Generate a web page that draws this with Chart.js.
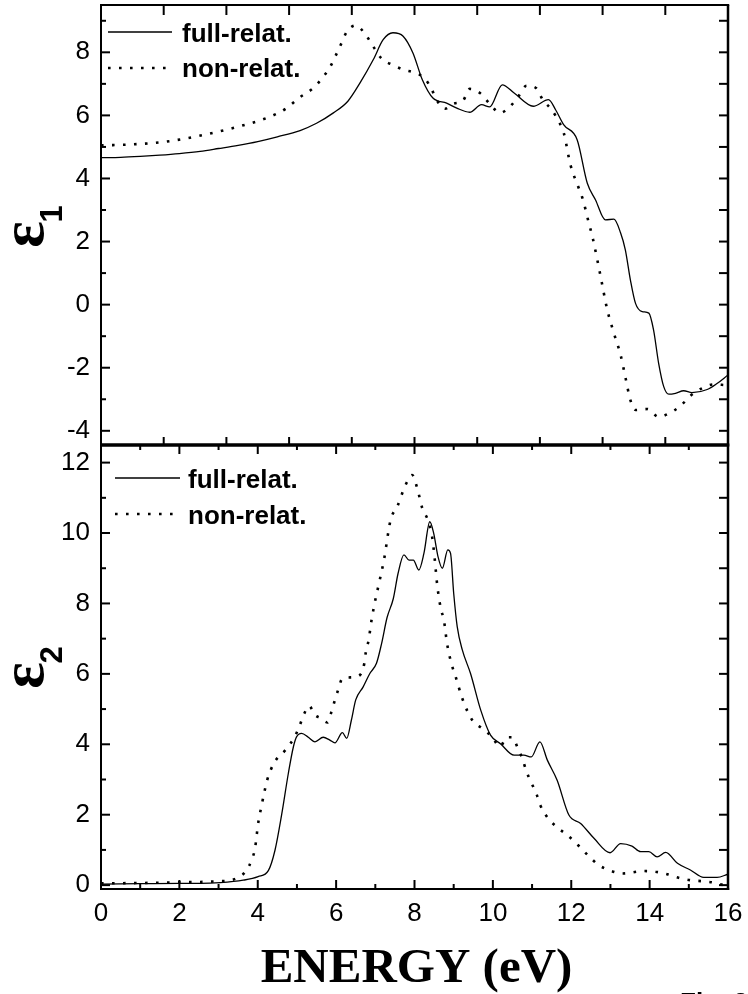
<!DOCTYPE html>
<html>
<head>
<meta charset="utf-8">
<script src="https://cdn.jsdelivr.net/npm/chart.js@4/dist/chart.umd.min.js"></script>
<style>
html,body{margin:0;padding:0;background:#fff;}
#wrap{position:relative;width:748px;height:994px;overflow:hidden;}
canvas{position:absolute;left:0;top:0;}
</style>
</head>
<body>
<div id="wrap">
<canvas id="top" width="748" height="994"></canvas>
<canvas id="bot" width="748" height="994"></canvas>
</div>
<script>
// ---------- data (energy in eV) ----------
const e1FullE = [0,0.5,1,1.5,2,2.53,3,3.5,4,4.5,5.08,5.5,5.93,6.3,6.61,6.95,7.2,7.45,7.71,7.96,8.2,8.47,8.82,9.08,9.41,9.71,9.92,10.24,10.55,11.03,11.42,11.6,11.81,12.15,12.41,12.62,12.87,13.09,13.26,13.38,13.51,13.64,13.81,13.98,14.1,14.23,14.36,14.49,14.66,14.87,15.08,15.47,15.72,16];
const e1FullV = [4.66,4.67,4.70,4.74,4.79,4.86,4.95,5.05,5.17,5.32,5.52,5.75,6.08,6.45,7.03,7.77,8.40,8.62,8.51,7.98,7.13,6.55,6.39,6.23,6.10,6.34,6.27,6.97,6.70,6.29,6.50,6.18,5.70,5.23,3.85,3.32,2.69,2.71,2.27,1.74,0.78,0.04,-0.22,-0.27,-0.80,-1.86,-2.60,-2.84,-2.81,-2.73,-2.79,-2.69,-2.50,-2.23];

const e1NonE = [0,0.8,1.67,2.5,3.37,4.23,4.7,5.08,5.42,5.67,5.87,6.01,6.14,6.27,6.5,6.78,6.97,7.16,7.46,7.72,8.01,8.27,8.44,8.56,8.78,8.99,9.24,9.41,9.67,9.94,10.18,10.43,10.65,10.86,11.1,11.27,11.51,11.68,11.81,11.98,12.19,12.3,12.45,12.55,12.75,12.92,13.09,13.26,13.38,13.51,13.64,13.94,14.23,14.49,14.79,15.04,15.34,15.64,15.94];
const e1NonV = [5.05,5.08,5.17,5.35,5.60,5.92,6.20,6.58,6.87,7.22,7.59,7.95,8.30,8.65,8.85,8.51,8.14,7.80,7.59,7.45,7.35,7.16,6.82,6.50,6.21,6.37,6.47,6.84,6.71,6.34,6.08,6.27,6.60,6.94,6.87,6.50,6.16,5.81,5.44,4.43,3.70,3.32,2.58,2.10,0.89,-0.17,-0.91,-1.60,-2.29,-3.03,-3.34,-3.31,-3.56,-3.45,-3.21,-2.89,-2.65,-2.53,-2.55];

const e2FullE = [0,1,2,2.53,3.04,3.63,4.01,4.27,4.44,4.61,4.78,4.91,4.99,5.12,5.29,5.46,5.67,5.84,5.97,6.16,6.27,6.39,6.5,6.69,6.86,7.03,7.16,7.3,7.46,7.58,7.73,7.86,7.97,8.11,8.24,8.39,8.49,8.6,8.71,8.85,8.92,9.0,9.09,9.22,9.43,9.69,9.94,10.2,10.54,10.79,10.98,11.2,11.39,11.64,11.94,12.24,12.58,12.99,13.26,13.55,13.77,13.98,14.19,14.41,14.71,15.04,15.38,15.72,16];
const e2FullV = [0.03,0.04,0.05,0.05,0.07,0.14,0.24,0.41,0.99,2.0,3.17,3.93,4.21,4.31,4.20,4.07,4.20,4.12,4.04,4.33,4.17,4.69,5.26,5.63,6.01,6.30,6.86,7.60,8.14,8.85,9.38,9.23,9.23,8.95,9.42,10.32,9.99,9.33,9.0,9.52,9.42,8.29,7.34,6.68,6.01,4.97,4.26,4.01,3.69,3.69,3.64,4.07,3.55,2.98,1.99,1.75,1.33,0.92,1.18,1.11,0.95,0.95,0.80,0.93,0.62,0.43,0.22,0.22,0.31];

const e2NonE = [0,1,2,3,3.38,3.72,3.84,3.93,4.01,4.1,4.16,4.24,4.33,4.46,4.71,4.92,5.06,5.16,5.31,5.46,5.59,5.78,5.88,5.97,6.05,6.16,6.39,6.61,6.72,6.76,6.83,6.9,7.0,7.09,7.22,7.39,7.56,7.77,7.94,8.07,8.2,8.34,8.45,8.51,8.58,8.67,8.75,8.83,8.94,9.05,9.22,9.47,9.73,9.98,10.18,10.36,10.49,10.64,10.75,10.86,10.98,11.11,11.21,11.38,11.62,11.9,12.17,12.45,12.7,13.0,13.3,13.85,14.15,14.45,14.74,15.04,15.35,15.64,15.89,16];
const e2NonV = [0.05,0.06,0.08,0.11,0.16,0.43,0.71,1.04,1.75,2.27,2.60,2.98,3.27,3.55,3.84,4.17,4.50,4.80,5.09,4.83,4.75,4.62,4.92,5.26,5.54,5.87,5.90,5.97,6.30,6.63,6.96,7.50,8.10,8.55,9.23,10.37,10.75,11.36,11.65,11.27,10.70,10.37,9.89,9.33,8.52,7.86,7.53,6.87,6.30,5.92,5.30,4.69,4.45,4.21,3.93,4.20,4.20,3.88,3.60,3.22,2.91,2.60,2.27,1.94,1.66,1.42,1.14,0.82,0.57,0.41,0.33,0.40,0.38,0.31,0.21,0.14,0.11,0.07,0.0,-0.02];

const seriesLabels = ['full-relat.', 'non-relat.'];
const e1TickLabels = [-4,-2,0,2,4,6,8];
const e2TickLabels = [0,2,4,6,8,10,12];
const energyTickLabels = [0,2,4,6,8,10,12,14,16];
const e1TopTickMarks = [0,1.6,3.2,4.8,6.4,8,9.6,11.2,12.8,14.4,16];
const xTitle = 'ENERGY (eV)';
const figText = 'Fig. 3';

// ---------- helpers ----------
const pts = (xs, ys) => xs.map((x, i) => ({x: x, y: ys[i]}));
const solidStyle = {borderColor:'#000', borderWidth:1.3, pointRadius:0, fill:false, cubicInterpolationMode:'monotone'};
const dotStyle = {borderColor:'#000', borderWidth:2.6, borderDash:[2.6,8.4], pointRadius:0, fill:false, cubicInterpolationMode:'monotone'};
const tickFont = {family:'"Liberation Sans", Arial, sans-serif', size:26};

function zeroPad(s) { s.paddingTop = 0; s.paddingBottom = 0; s.paddingLeft = 0; s.paddingRight = 0; }

function line(ctx, x1, y1, x2, y2, w) {
  ctx.lineWidth = w; ctx.beginPath(); ctx.moveTo(x1, y1); ctx.lineTo(x2, y2); ctx.stroke();
}

function drawEpsLabel(ctx, cx, cy, sub) {
  ctx.save();
  ctx.fillStyle = '#000';
  ctx.font = 'bold 62px "Liberation Serif", "Times New Roman", serif';
  const we = ctx.measureText('\u03b5').width;
  ctx.font = 'bold 31px "Liberation Sans", Arial, sans-serif';
  const ws = ctx.measureText(sub).width;
  const total = we + ws;
  ctx.translate(cx, cy);
  ctx.rotate(-Math.PI / 2);
  ctx.textBaseline = 'alphabetic';
  ctx.textAlign = 'left';
  ctx.font = 'bold 62px "Liberation Serif", "Times New Roman", serif';
  ctx.fillText('\u03b5', -total / 2, 0);
  ctx.font = 'bold 31px "Liberation Sans", Arial, sans-serif';
  ctx.fillText(sub, -total / 2 + we - 1, 19);
  ctx.restore();
}

function drawLegend(ctx, x0, x1, x1d, xt, yl1, yb1, yl2, yb2) {
  ctx.save();
  ctx.strokeStyle = '#000';
  line(ctx, x0, yl1, x1, yl1, 1.3);
  ctx.setLineDash([2.6, 8.4]);
  line(ctx, x0, yl2, x1d, yl2, 2.6);
  ctx.setLineDash([]);
  ctx.fillStyle = '#000';
  ctx.font = 'bold 26px "Liberation Sans", Arial, sans-serif';
  ctx.textAlign = 'left'; ctx.textBaseline = 'alphabetic';
  ctx.fillText(seriesLabels[0], xt, yb1);
  ctx.fillText(seriesLabels[1], xt, yb2);
  ctx.restore();
}

// ---------- top panel (epsilon 1) ----------
const topPlugin = {
  id: 'topFrame',
  afterDatasetsDraw(chart) {
    const {ctx, chartArea: {left, right, top, bottom}} = chart;
    const xs = chart.scales.x, ys = chart.scales.y;
    ctx.save();
    ctx.strokeStyle = '#000';
    ctx.lineCap = 'butt';
    for (let v = -4; v <= 9; v++) {
      const py = ys.getPixelForValue(v);
      line(ctx, left, py, left + (v % 2 === 0 ? 9 : 5), py, 2);
      line(ctx, right, py, right - 9, py, 2);
    }
    e1TopTickMarks.forEach(e => {
      const px = xs.getPixelForValue(e);
      line(ctx, px, top, px, top + 10, 2);
      line(ctx, px, bottom, px, bottom - 8, 2);
    });
    line(ctx, left - 1, top, right + 1.2, top, 2);
    line(ctx, left, top, left, bottom, 2);
    line(ctx, right, top, right, bottom, 2.5);
    line(ctx, left - 1, bottom, right + 1.2, bottom, 3);
    ctx.restore();
    drawLegend(ctx, 108, 172, 166, 182, 32, 42, 68, 77);
    drawEpsLabel(ctx, 43, (top + bottom) / 2 + 1, '1');
  }
};

new Chart(document.getElementById('top'), {
  type: 'line',
  data: {
    datasets: [
      Object.assign({label: seriesLabels[0], data: pts(e1FullE, e1FullV)}, solidStyle),
      Object.assign({label: seriesLabels[1], data: pts(e1NonE, e1NonV)}, dotStyle)
    ]
  },
  options: {
    responsive: false, animation: false, devicePixelRatio: 1,
    layout: {padding: {left: 0, right: 20, top: 5, bottom: 549}},
    scales: {
      x: {type: 'linear', min: 0, max: 16, display: false},
      y: {
        type: 'linear', min: -4.45, max: 9.5, position: 'left',
        grid: {display: false, drawTicks: false}, border: {display: false},
        ticks: {font: tickFont, color: '#000', padding: 11},
        afterBuildTicks: s => { s.ticks = e1TickLabels.map(v => ({value: v})); },
        afterFit: s => { s.width = 101; zeroPad(s); }
      }
    },
    plugins: {legend: {display: false}, tooltip: {enabled: false}}
  },
  plugins: [topPlugin]
});

// ---------- bottom panel (epsilon 2) ----------
const botPlugin = {
  id: 'botFrame',
  afterDatasetsDraw(chart) {
    const {ctx, chartArea: {left, right, top, bottom}} = chart;
    const xs = chart.scales.x, ys = chart.scales.y;
    ctx.save();
    ctx.strokeStyle = '#000';
    ctx.lineCap = 'butt';
    for (let v = 0; v <= 12; v++) {
      const py = ys.getPixelForValue(v);
      line(ctx, left, py, left + (v % 2 === 0 ? 9 : 5), py, 2);
      line(ctx, right, py, right - 9, py, 2);
    }
    for (let e = 0; e <= 16; e++) {
      const px = xs.getPixelForValue(e);
      const len = e % 2 === 0 ? 9 : 5;
      line(ctx, px, top, px, top + len, 2);
      line(ctx, px, bottom, px, bottom - len, 2);
    }
    line(ctx, left, top, left, bottom + 1, 2);
    line(ctx, right, top, right, bottom + 1, 2.5);
    line(ctx, left - 1, bottom, right + 1.2, bottom, 2.2);
    line(ctx, left - 1, top, right + 1.2, top, 3);
    ctx.restore();
    drawLegend(ctx, 115, 180, 173, 188, 478, 488, 514, 524);
    drawEpsLabel(ctx, 43, (top + bottom) / 2, '2');
    ctx.save();
    ctx.fillStyle = '#000';
    ctx.font = 'bold 49px "Liberation Serif", "Times New Roman", serif';
    ctx.textAlign = 'center'; ctx.textBaseline = 'alphabetic';
    ctx.fillText(xTitle, (left + right) / 2 + 2, 982);
    ctx.font = 'bold 26px "Liberation Sans", Arial, sans-serif';
    ctx.textAlign = 'left';
    ctx.fillText(figText, 680, 1011);
    ctx.restore();
  }
};

new Chart(document.getElementById('bot'), {
  type: 'line',
  data: {
    datasets: [
      Object.assign({label: seriesLabels[0], data: pts(e2FullE, e2FullV)}, solidStyle),
      Object.assign({label: seriesLabels[1], data: pts(e2NonE, e2NonV)}, dotStyle)
    ]
  },
  options: {
    responsive: false, animation: false, devicePixelRatio: 1,
    layout: {padding: {left: 0, right: 20, top: 445, bottom: 0}},
    scales: {
      x: {
        type: 'linear', min: 0, max: 16, position: 'bottom',
        grid: {display: false, drawTicks: false}, border: {display: false},
        ticks: {font: tickFont, color: '#000', padding: 9, maxRotation: 0},
        afterBuildTicks: s => { s.ticks = energyTickLabels.map(v => ({value: v})); },
        afterFit: s => { s.height = 105; zeroPad(s); }
      },
      y: {
        type: 'linear', min: -0.11, max: 12.5, position: 'left',
        grid: {display: false, drawTicks: false}, border: {display: false},
        ticks: {font: tickFont, color: '#000', padding: 11},
        afterBuildTicks: s => { s.ticks = e2TickLabels.map(v => ({value: v})); },
        afterFit: s => { s.width = 101; zeroPad(s); }
      }
    },
    plugins: {legend: {display: false}, tooltip: {enabled: false}}
  },
  plugins: [botPlugin]
});
</script>
</body>
</html>
